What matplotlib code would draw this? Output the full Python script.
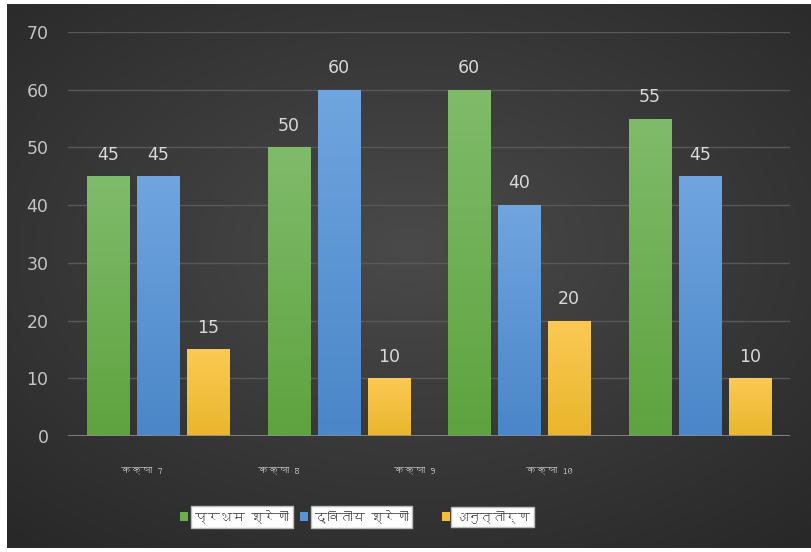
import numpy as np
import matplotlib
matplotlib.use("Agg")
import matplotlib.pyplot as plt
from matplotlib import font_manager
from matplotlib.ft2font import FT2Font
from matplotlib.patches import Rectangle

# data
classes = ['कक्षा 7', 'कक्षा 8', 'कक्षा 9', 'कक्षा 10']
series = ['प्रथम श्रेणी', 'द्वितीय श्रेणी', 'अनुत्तीर्ण']
first = [45, 50, 60, 55]
second = [45, 60, 40, 45]
failed = [15, 10, 20, 10]

# colours (top, bottom) of each bar gradient
grad = [('#80bb6b', '#5ea33f'), ('#70a5df', '#4a86c8'), ('#fcc955', '#e9b62c')]
solid = ['#6aaf4c', '#5a93d3', '#f5bd35']


# look for a font that has Devanagari glyphs
def find_font(ch):
    for f in font_manager.fontManager.ttflist:
        try:
            if ord(ch) in FT2Font(f.fname).get_charmap():
                return f.name
        except Exception:
            pass
    return None


deva = find_font('क')
fam = [deva, 'DejaVu Sans'] if deva else ['DejaVu Sans']

fig = plt.figure(figsize=(8.12, 5.52), dpi=100)
fig.patch.set_facecolor('white')

# dark radial background
bg = fig.add_axes([7 / 812, 4 / 552, 805 / 812, 544 / 552])
yy, xx = np.mgrid[-1:1:300j, -1:1:400j]
r = np.sqrt((xx * 0.95) ** 2 + ((yy + 0.1) * 1.0) ** 2)
val = 0.29 - 0.13 * np.clip(r, 0, 1.4) / 1.4
bg.imshow(np.dstack([val, val, val]), aspect='auto', extent=[0, 1, 0, 1])
bg.set_axis_off()

ax = fig.add_axes([68 / 812, 116 / 552, 722 / 812, 404 / 552])
ax.patch.set_alpha(0)

x = np.arange(len(classes))
w = 0.233
step = 0.277
allvals = [first, second, failed]
for i, vals in enumerate(allvals):
    bars = ax.bar(x + (i - 1) * step, vals, w, color=solid[i], zorder=3)
    top = np.array(matplotlib.colors.to_rgb(grad[i][0]))
    bot = np.array(matplotlib.colors.to_rgb(grad[i][1]))
    g = np.linspace(0, 1, 100)[:, None, None]
    img = top * (1 - g) + bot * g
    for b in bars:
        im = ax.imshow(img, aspect='auto', zorder=4,
                       extent=[b.get_x(), b.get_x() + b.get_width(), 0, b.get_height()])
        im.set_clip_path(b)
    for b, v in zip(bars, vals):
        ax.text(b.get_x() + b.get_width() / 2, v + 2.2, str(v), ha='center', va='bottom',
                color='#d9d9d9', fontsize=12.5, zorder=5)

ax.set_xlim(-0.5, 3.5)
ax.set_ylim(0, 70)
ax.set_yticks(range(0, 71, 10))
ax.grid(axis='y', color='#585858', linewidth=1, zorder=0)
ax.axhline(0, color='#8c8c8c', linewidth=1.2, zorder=6)
for s in ax.spines.values():
    s.set_visible(False)
ax.tick_params(axis='y', length=0, pad=14, labelsize=12.5, labelcolor='#c4c4c4')

# category labels (offset in the original picture)
label_pos = [-0.09, 0.67, 1.42, 2.17]
ax.set_xticks(label_pos)
ax.set_xticklabels(classes, family=fam, fontsize=7.5, color='#c8c8c8', fontweight='bold')
ax.tick_params(axis='x', length=0, pad=22)

# legend with white label boxes
leg_sq = [180, 300, 442]
leg_tx = [195, 315, 455]
for i, name in enumerate(series):
    fig.patches.append(Rectangle((leg_sq[i] / 812, 1 - 521 / 552), 8 / 812, 9 / 552,
                                 transform=fig.transFigure, facecolor=solid[i],
                                 edgecolor='none'))
    fig.text(leg_tx[i] / 812, 1 - 517 / 552, name, family=fam, fontsize=9, fontweight='bold',
             color='#404040', ha='left', va='center',
             bbox=dict(facecolor='white', edgecolor='#bbbbbb', boxstyle='square,pad=0.3'))

fig.savefig('out.png', dpi=100, facecolor='white')
